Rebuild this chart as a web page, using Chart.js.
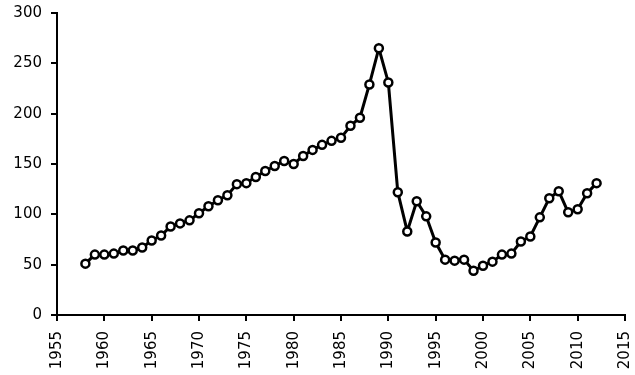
<!DOCTYPE html>
<html lang="en">
<head>
    <meta charset="UTF-8">
    <title>Annual values 1958-2012</title>
    <script src="https://cdn.jsdelivr.net/npm/chart.js"></script>
    <style>
        * {
            margin: 0;
            padding: 0;
            box-sizing: border-box;
        }

        body {
            background-color: #ffffff;
        }

        .chart-box {
            position: relative;
            width: 635px;
            height: 375px;
        }
    </style>
</head>
<body>
    <div class="chart-box">
        <canvas id="lineChart"></canvas>
    </div>

    <script>
        // Data
        const years = [
            1958, 1959, 1960, 1961, 1962, 1963, 1964, 1965, 1966, 1967,
            1968, 1969, 1970, 1971, 1972, 1973, 1974, 1975, 1976, 1977,
            1978, 1979, 1980, 1981, 1982, 1983, 1984, 1985, 1986, 1987,
            1988, 1989, 1990, 1991, 1992, 1993, 1994, 1995, 1996, 1997,
            1998, 1999, 2000, 2001, 2002, 2003, 2004, 2005, 2006, 2007,
            2008, 2009, 2010, 2011, 2012
        ];
        const values = [
            51, 60, 60, 61, 64, 64, 67, 74, 79, 88,
            91, 94, 101, 108, 114, 119, 130, 131, 137, 143,
            148, 153, 150, 158, 164, 169, 173, 176, 188, 196,
            229, 265, 231, 122, 83, 113, 98, 72, 55, 54,
            55, 44, 49, 53, 60, 61, 73, 78, 97, 116,
            123, 102, 105, 121, 131
        ];
        const xTicks = [1955, 1960, 1965, 1970, 1975, 1980, 1985, 1990, 1995, 2000, 2005, 2010, 2015];
        const yTicks = [0, 50, 100, 150, 200, 250, 300];

        const points = years.map((y, i) => ({ x: y, y: values[i] }));
        const tickFont = { family: 'DejaVu Sans', size: 15 };

        const ctx = document.getElementById('lineChart').getContext('2d');
        new Chart(ctx, {
            type: 'line',
            data: {
                datasets: [{
                    data: points,
                    borderColor: '#000000',
                    borderWidth: 3,
                    pointRadius: 4,
                    pointBorderWidth: 2.5,
                    pointBorderColor: '#000000',
                    pointBackgroundColor: '#ffffff',
                    tension: 0
                }]
            },
            options: {
                responsive: true,
                maintainAspectRatio: false,
                animation: false,
                layout: {
                    padding: { left: 0, top: 13, right: 10, bottom: 0 }
                },
                plugins: {
                    legend: { display: false },
                    tooltip: { enabled: false }
                },
                scales: {
                    x: {
                        type: 'linear',
                        min: xTicks[0],
                        max: xTicks[xTicks.length - 1],
                        afterBuildTicks: scale => {
                            scale.ticks = xTicks.map(v => ({ value: v }));
                        },
                        afterFit: scale => {
                            scale.height = 60;
                            scale.paddingLeft = 0;
                            scale.paddingRight = 0;
                        },
                        grid: {
                            drawOnChartArea: false,
                            color: '#000000',
                            lineWidth: 2,
                            tickLength: 6
                        },
                        border: { color: '#000000', width: 2 },
                        ticks: {
                            color: '#000000',
                            font: tickFont,
                            minRotation: 90,
                            maxRotation: 90,
                            padding: 10,
                            callback: v => String(v)
                        }
                    },
                    y: {
                        min: yTicks[0],
                        max: yTicks[yTicks.length - 1],
                        afterBuildTicks: scale => {
                            scale.ticks = yTicks.map(v => ({ value: v }));
                        },
                        afterFit: scale => {
                            scale.width = 57;
                            scale.paddingTop = 0;
                            scale.paddingBottom = 0;
                        },
                        grid: {
                            drawOnChartArea: false,
                            color: '#000000',
                            lineWidth: 2,
                            tickLength: 6
                        },
                        border: { color: '#000000', width: 2 },
                        ticks: {
                            color: '#000000',
                            font: tickFont,
                            padding: 9
                        }
                    }
                }
            }
        });
    </script>
</body>
</html>
